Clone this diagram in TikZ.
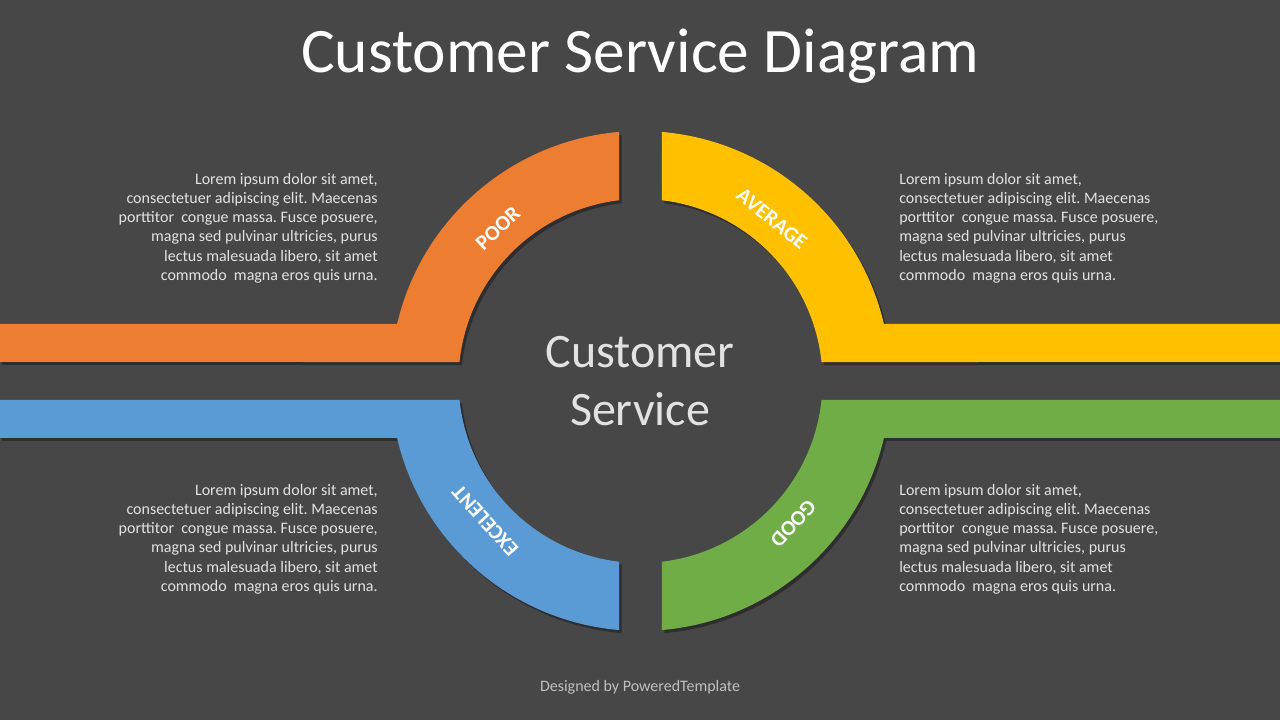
\documentclass[tikz,border=0pt]{standalone}
\usepackage{fontspec}
\setmainfont{Carlito}
\usetikzlibrary{positioning}
\definecolor{bgray}{HTML}{474747}
\definecolor{orng}{HTML}{ED7D31}
\definecolor{yllw}{HTML}{FFC000}
\definecolor{blu}{HTML}{5B9BD5}
\definecolor{grn}{HTML}{70AD47}
\definecolor{txtgray}{HTML}{E2E2E2}
\definecolor{footgray}{HTML}{BFBFBF}
\tikzstyle{headline}=[inner sep=0pt, text=white, font=\fontsize{47.5}{58}\selectfont]
\tikzstyle{hub}=[inner sep=0pt, text=txtgray, align=center, font=\fontsize{36}{43.5}\selectfont]
\tikzstyle{lorem}=[inner sep=0pt, text=txtgray, font=\fontsize{12}{14.4}\selectfont]
\tikzstyle{tag}=[inner sep=0pt, text=white, font=\fontsize{16}{19}\selectfont\bfseries]
\tikzstyle{castshadow}=[fill=black, opacity=.35]

% one quarter (upper left): band and arc, around the centre
\newcommand{\bandshape}{(-641,57) -- (166.82:250)
  arc[start angle=166.82, end angle=94.93, radius=250] -- (96.78:182)
  arc[start angle=96.78, end angle=174.01, radius=182] -- (-641,19) -- cycle}

\begin{document}
\frenchspacing
\begin{tikzpicture}[x=0.75pt, y=0.75pt]
  \fill[bgray] (0,0) rectangle (1280,720);
  \useasboundingbox (0,0) rectangle (1280,720);
  \clip (0,0) rectangle (1280,720);

  \coordinate (c) at (640.5,339);

  % shadows first, then the four ribbons
  \foreach \sx/\sy in {1/1, -1/1, 1/-1, -1/-1}
    \fill[castshadow, shift={(643,336)}, xscale=\sx, yscale=\sy] \bandshape;
  \foreach \sx/\sy/\col in {1/1/orng, -1/1/yllw, 1/-1/blu, -1/-1/grn}
    \fill[\col, shift={(c)}, xscale=\sx, yscale=\sy] \bandshape;

  \node[headline, anchor=base] (title) at (640,647) {Customer Service Diagram};
  \node[hub] (hub) at (640,339) {Customer\\Service};

  \node[tag, rotate=43] (poor) at ([shift={(133:209)}]c) {POOR};
  \node[tag, rotate=-39] (average) at ([shift={(51:209)}]c) {AVERAGE};
  \node[tag, rotate=132] (excelent) at ([shift={(222:209)}]c) {EXCELENT};
  \node[tag, rotate=-133] (good) at ([shift={(317:209)}]c) {GOOD};

  \node[lorem, anchor=north east, align=right] (txtpoor) at (378,547)
    {Lorem ipsum dolor sit amet,\\consectetuer adipiscing elit. Maecenas\\
     porttitor\ \ congue massa. Fusce posuere,\\magna sed pulvinar ultricies, purus\\
     lectus malesuada libero, sit amet\\commodo\ \ magna eros quis urna.};
  \node[lorem, anchor=north west, align=left] (txtaverage) at (899,547)
    {Lorem ipsum dolor sit amet,\\consectetuer adipiscing elit. Maecenas\\
     porttitor\ \ congue massa. Fusce posuere,\\magna sed pulvinar ultricies, purus\\
     lectus malesuada libero, sit amet\\commodo\ \ magna eros quis urna.};
  \node[lorem, anchor=north east, align=right] (txtexcelent) at (378,236)
    {Lorem ipsum dolor sit amet,\\consectetuer adipiscing elit. Maecenas\\
     porttitor\ \ congue massa. Fusce posuere,\\magna sed pulvinar ultricies, purus\\
     lectus malesuada libero, sit amet\\commodo\ \ magna eros quis urna.};
  \node[lorem, anchor=north west, align=left] (txtgood) at (899,236)
    {Lorem ipsum dolor sit amet,\\consectetuer adipiscing elit. Maecenas\\
     porttitor\ \ congue massa. Fusce posuere,\\magna sed pulvinar ultricies, purus\\
     lectus malesuada libero, sit amet\\commodo\ \ magna eros quis urna.};

  \node[inner sep=0pt, text=footgray, font=\fontsize{12}{14}\selectfont, anchor=base]
    (credit) at (640,28) {Designed by PoweredTemplate};
\end{tikzpicture}
\end{document}
